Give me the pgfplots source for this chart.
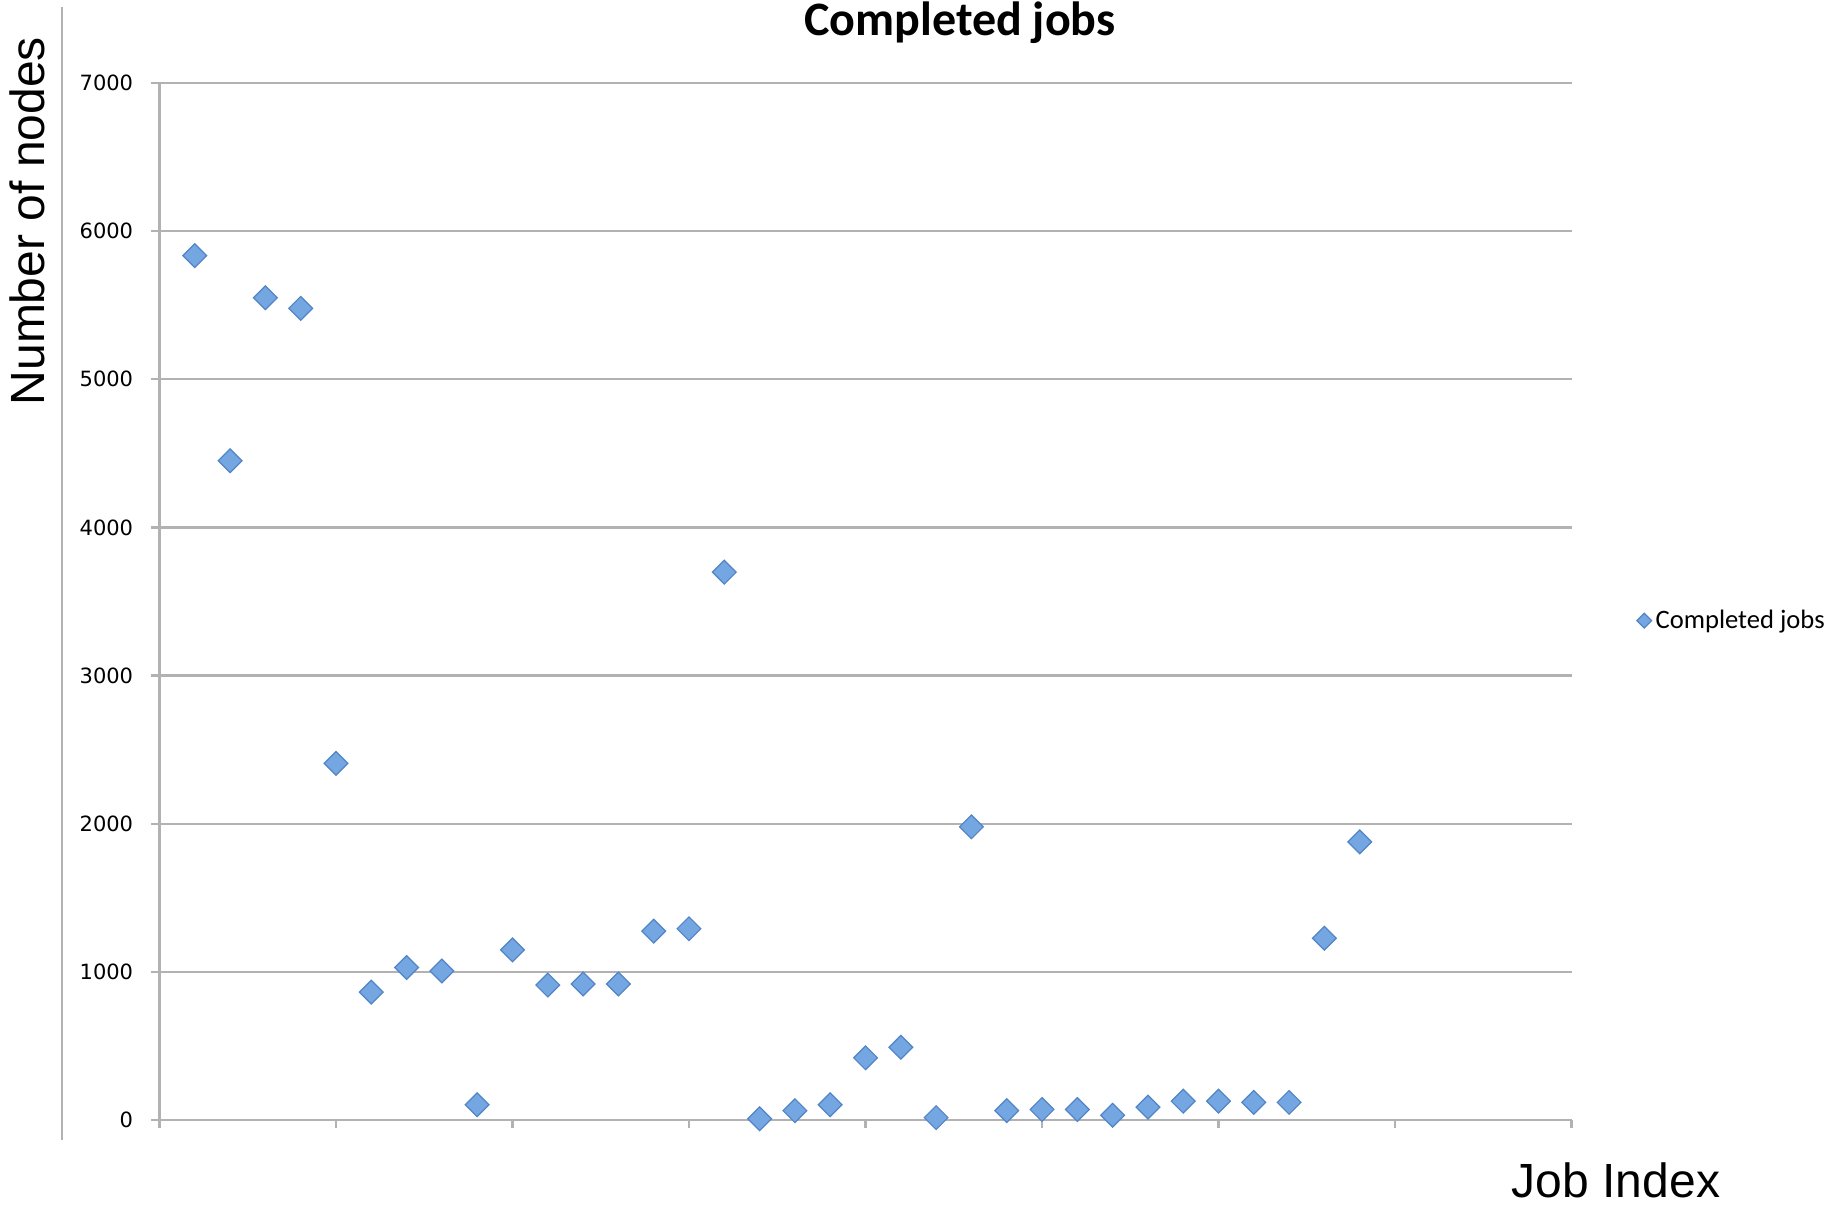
\documentclass[border=0pt]{standalone}
\usepackage{pgfplots}
\pgfplotsset{compat=1.18}
\usepackage{fontspec}
\setmainfont{Liberation Sans}
\newfontfamily\carlito{Carlito}
\newfontfamily\dejavu{DejaVu Sans}
\definecolor{gridgray}{RGB}{178,178,178}
\definecolor{markfill}{RGB}{116,166,226}
\definecolor{markdraw}{RGB}{82,132,198}
\begin{document}
\begin{tikzpicture}
\useasboundingbox (0,0) rectangle (919.5pt,602pt);
\draw[gridgray, line width=1pt] (31pt,32pt) -- (31pt,598.5pt);
\node[anchor=base, font=\carlito\bfseries\fontsize{24}{28}\selectfont] at (480pt,584pt) {Completed jobs};
\begin{axis}[
  at={(79.75pt,42pt)}, anchor=south west,
  scale only axis, width=706pt, height=518.5pt,
  clip=false,
  xmin=0, xmax=40, ymin=0, ymax=7000,
  xtick={0,5,...,40}, xticklabels={},
  ytick={0,1000,...,7000},
  axis lines*=left,
  tick align=outside,
  major tick length=4pt,
  ymajorgrids,
  major grid style={gridgray, line width=1.2pt},
  axis line style={gridgray, line width=1.2pt},
  tick style={gridgray, line width=1.2pt},
  /pgf/number format/1000 sep={},
  /pgf/number format/assume math mode=true,
  yticklabel style={font=\dejavu\fontsize{10.5}{12}\selectfont, inner sep=0pt, xshift=-9pt},
  xlabel={Job Index},
  ylabel={Number of nodes},
  label style={font=\fontsize{24}{28}\selectfont},
  xlabel style={at={(axis description cs:1.0315,-0.0743)}, anchor=base},
  ylabel style={at={(axis description cs:-0.0811,0.8667)}, anchor=base},
  legend style={at={(axis description cs:1.046,0.4815)}, anchor=west, draw=none, fill=none,
    font=\carlito\fontsize{13.3}{15}\selectfont, inner sep=0pt},
  legend image code/.code={\draw[#1, mark size=2.6pt] plot coordinates {(0pt,0pt)};},
]
\addplot[only marks, mark=square*, mark size=4.2pt,
  mark options={rotate=45, fill=markfill, draw=markdraw, line width=0.6pt}]
coordinates {
(1,5835) (2,4450) (3,5550) (4,5479) (5,2407) (6,863) (7,1029) (8,1006)
(9,103) (10,1148) (11,911) (12,918) (13,918) (14,1275) (15,1291) (16,3698)
(17,8) (18,63) (19,103) (20,420) (21,491) (22,16) (23,1979) (24,63)
(25,71) (26,71) (27,32) (28,87) (29,127) (30,127) (31,119) (32,119)
(33,1227) (34,1877)
};
\addlegendentry{Completed jobs}
\end{axis}
\end{tikzpicture}
\end{document}
